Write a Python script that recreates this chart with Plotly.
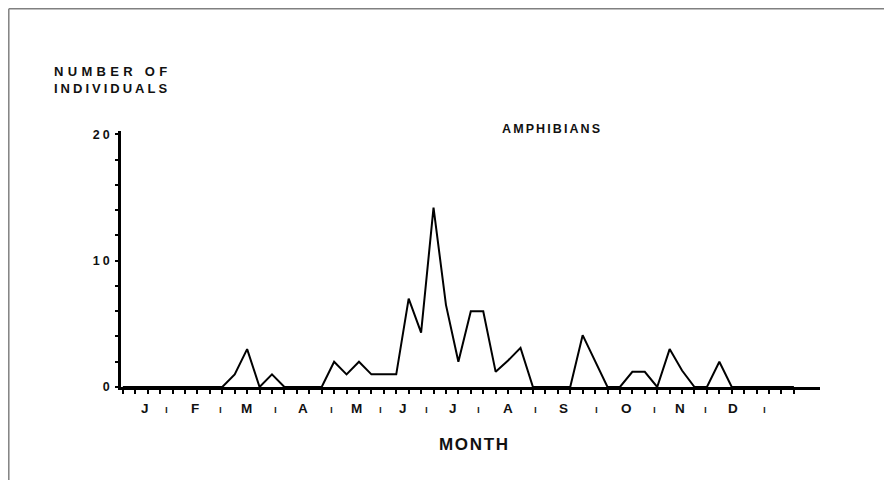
import plotly.graph_objects as go

# ---- data ----
weeks = list(range(0, 55))
individuals = [0]*55
nonzero = {9: 1, 10: 3, 12: 1,
           17: 2, 18: 1, 19: 2, 20: 1, 21: 1, 22: 1, 23: 7, 24: 4.3, 25: 14.2,
           26: 6.5, 27: 2, 28: 6, 29: 6, 30: 1.2, 31: 2.1, 32: 3.1,
           37: 4.1, 38: 2,
           41: 1.2, 42: 1.2, 44: 3, 45: 1.3, 48: 2}
for k, v in nonzero.items():
    individuals[k] = v

month_labels = ["J", "F", "M", "A", "M", "J", "J", "A", "S", "O", "N", "D"]
month_pos = [1.79, 5.82, 9.92, 14.53, 18.83, 22.57, 26.53, 31.02, 35.45, 40.55, 44.84, 49.12]
sep_pos = [3.54, 7.83, 12.25, 16.81, 20.7, 24.46, 28.61, 33.17, 38.13, 42.82, 46.85, 51.67]

y_tickvals = list(range(0, 21, 2))
y_ticktext = ["0", "", "", "", "", '<span style="letter-spacing:3px">1</span>0',
              "", "", "", "", '<span style="letter-spacing:3px">2</span>0']

FONT = "Liberation Sans, Arial, Helvetica, sans-serif"
OFF = 8  # page body margin
W, H = 892 - OFF, 480 - OFF
ML, MR, MT, MB = 121 - OFF, 72, 131 - OFF, 93

fig = go.Figure()
fig.add_trace(go.Scatter(x=weeks, y=individuals, mode="lines",
                         line=dict(color="black", width=2),
                         cliponaxis=False, hoverinfo="skip"))

annotations = []
for lab, p in zip(month_labels, month_pos):
    annotations.append(dict(x=p, y=0, xref="x", yref="y", text="<b>%s</b>" % lab,
                            showarrow=False, yshift=-21, yanchor="middle", xanchor="center",
                            font=dict(family=FONT, size=13.5, color="#111")))
for p in sep_pos:
    annotations.append(dict(x=p, y=0, xref="x", yref="y", text="<b>ı</b>",
                            showarrow=False, yshift=-22, yanchor="middle", xanchor="center",
                            font=dict(family=FONT, size=10, color="#222")))

pw = W - ML - MR
ph = H - MT - MB
def px_x(x):
    return (x - OFF - ML) / pw
def px_y(y):
    return (H - MB - (y - OFF)) / ph

annotations.append(dict(x=px_x(52), y=px_y(80), xref="paper", yref="paper", xanchor="left",
                        yanchor="middle", showarrow=False, align="left",
                        text='<b><span style="letter-spacing:4.3px">NUMBER OF</span></b><br>'
                             '<b><span style="letter-spacing:3px">INDIVIDUALS</span></b>',
                        font=dict(family=FONT, size=13, color="#111")))
annotations.append(dict(x=px_x(500), y=px_y(129), xref="paper", yref="paper", xanchor="left",
                        yanchor="middle", showarrow=False,
                        text='<b><span style="letter-spacing:2.1px">AMPHIBIANS</span></b>',
                        font=dict(family=FONT, size=12.5, color="#111")))
annotations.append(dict(x=px_x(437), y=px_y(444.5), xref="paper", yref="paper", xanchor="left",
                        yanchor="middle", showarrow=False,
                        text='<b><span style="letter-spacing:1.7px">MONTH</span></b>',
                        font=dict(family=FONT, size=17, color="#111")))

shapes = [
    dict(type="line", xref="paper", yref="paper", x0=px_x(8.8), x1=px_x(900),
         y0=px_y(8.8), y1=px_y(8.8), line=dict(color="#808080", width=1.5)),
    dict(type="line", xref="paper", yref="paper", x0=px_x(8.8), x1=px_x(8.8),
         y0=px_y(8.8), y1=px_y(490), line=dict(color="#808080", width=1.5)),
]

fig.update_layout(
    width=W, height=H,
    margin=dict(l=ML, r=MR, t=MT, b=MB, pad=0),
    paper_bgcolor="white", plot_bgcolor="white",
    showlegend=False,
    annotations=annotations,
    shapes=shapes,
    xaxis=dict(range=[-0.15, 56.1], showgrid=False, zeroline=False,
               showline=True, linecolor="black", linewidth=2.5,
               tickmode="array", tickvals=weeks, showticklabels=False,
               ticks="outside", ticklen=4, tickwidth=2, tickcolor="black"),
    yaxis=dict(range=[0, 20.26], showgrid=False, zeroline=False,
               showline=True, linecolor="black", linewidth=2.5,
               tickmode="array", tickvals=y_tickvals, ticktext=y_ticktext,
               ticks="outside", ticklen=3, tickwidth=2, tickcolor="black",
               ticklabelstandoff=3,
               tickfont=dict(family=FONT, size=12.5, color="#111", weight="bold")),
)

fig.write_html("out.html")
